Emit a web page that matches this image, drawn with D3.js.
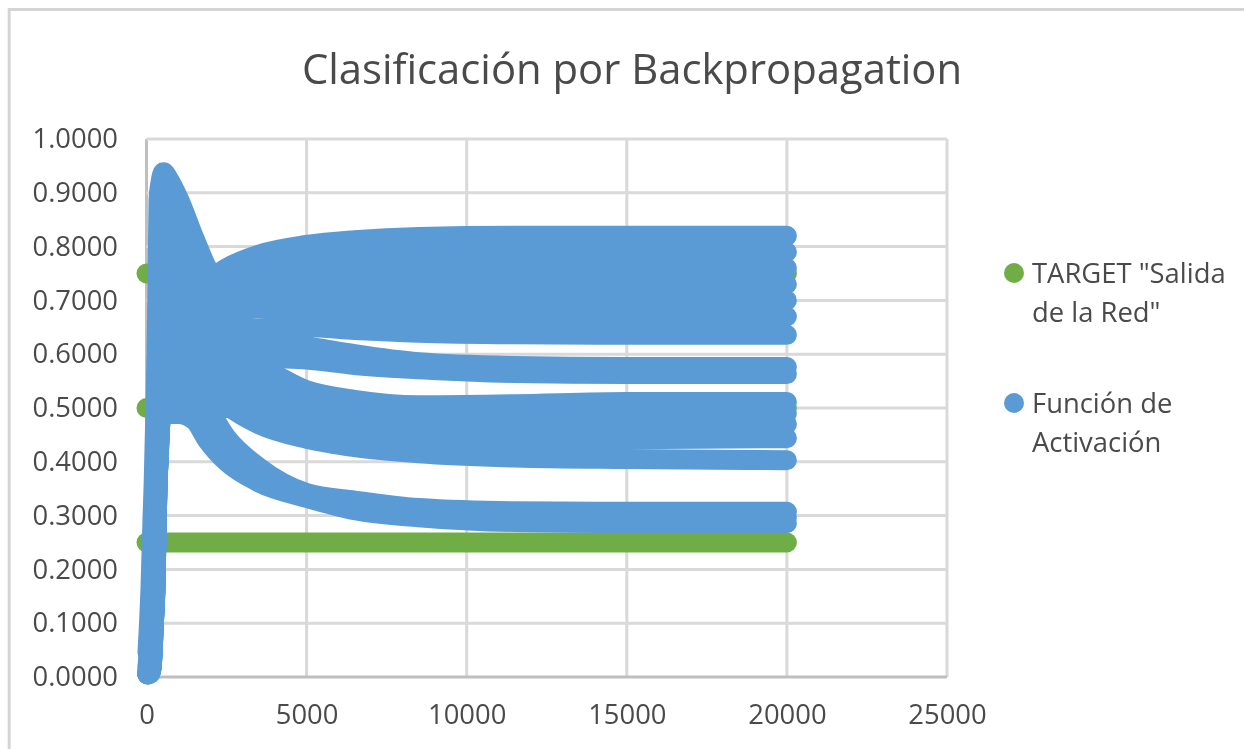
<!DOCTYPE html>
<html>
<head>
<meta charset="utf-8">
<script src="https://cdn.jsdelivr.net/npm/d3@7/dist/d3.min.js"></script>
<style>
  html, body { margin: 0; padding: 0; background: #fff; }
  svg { display: block; filter: blur(0.4px); }
  text { font-family: "Open Sans", sans-serif; fill: #4a4a4a; }
</style>
</head>
<body>
<div id="graphContainer"></div>
<script>
const titulo = 'Clasificación por Backpropagation';
const xTicks = [0, 5000, 10000, 15000, 20000, 25000];
const yTicks = [0, 0.1, 0.2, 0.3, 0.4, 0.5, 0.6, 0.7, 0.8, 0.9, 1];

// TARGET series, flat over all the iterations
const targetIter = [0, 20000];
const targets = [0.25, 0.5, 0.75];

const iter = [30, 125, 190, 220, 280, 340, 375, 440, 530, 700, 1000, 1500, 1900, 2500, 3500, 5000, 6500, 8500, 11500, 15000, 20000];

const salida1 = [.045, .167, .30, .353, .50, .706, .887, .92, .938, .925, .89, .815, .76, .725, .71, .70, .70, .70, .70, .70, .70];
const salida2 = [.02, .10, .22, .30, .42, .60, .68, .70, .70, .70, .70, .715, .735, .76, .785, .803, .812, .818, .82, .82, .82];
const salida3 = [.015, .08, .18, .25, .38, .60, .80, .88, .90, .89, .85, .78, .74, .73, .755, .775, .785, .79, .79, .79, .79];
const salida4 = [.01, .06, .15, .22, .33, .55, .72, .82, .85, .85, .80, .75, .72, .71, .73, .75, .755, .76, .76, .76, .76];
const salida5 = [.01, .05, .12, .18, .30, .50, .65, .76, .80, .80, .76, .72, .70, .69, .71, .72, .725, .73, .73, .73, .73];
const salida6 = [.008, .04, .10, .16, .27, .46, .60, .70, .74, .75, .72, .69, .67, .675, .685, .68, .675, .67, .67, .67, .67];
const salida7 = [.008, .03, .08, .14, .24, .40, .47, .54, .62, .66, .68, .65, .65, .645, .648, .65, .645, .64, .637, .636, .636];
const salida8 = [.007, .025, .07, .12, .22, .38, .45, .52, .58, .62, .66, .65, .65, .64, .63, .615, .60, .585, .578, .576, .576];
const salida9 = [.006, .02, .06, .11, .20, .37, .43, .51, .55, .60, .62, .65, .64, .61, .595, .59, .58, .572, .565, .563, .563];
const salida10 = [.006, .015, .055, .10, .19, .36, .42, .50, .56, .60, .62, .62, .60, .585, .575, .533, .515, .505, .507, .511, .511];
const salida11 = [.006, .012, .05, .095, .18, .36, .41, .49, .54, .58, .60, .60, .59, .57, .54, .51, .495, .49, .49, .49, .49];
const salida12 = [.005, .01, .05, .09, .175, .355, .41, .485, .53, .57, .59, .59, .58, .55, .515, .49, .478, .47, .47, .47, .47];
const salida13 = [.005, .009, .045, .09, .17, .355, .405, .48, .52, .56, .58, .58, .565, .53, .495, .465, .455, .447, .44, .442, .444];
const salida14 = [.005, .008, .045, .09, .17, .353, .40, .48, .51, .55, .56, .56, .535, .505, .47, .443, .4275, .416, .408, .405, .403];
const salida15 = [.005, .008, .045, .09, .167, .353, .40, .478, .50, .52, .53, .525, .50, .445, .39, .342, .328, .314, .308, .307, .307];
const salida16 = [.005, .007, .045, .09, .167, .353, .40, .478, .485, .489, .489, .477, .44, .40, .362, .333, .31, .297, .288, .286, .286];
const salida17 = [.005, .007, .045, .09, .167, .353, .40, .478, .49, .50, .505, .50, .47, .42, .375, .338, .32, .305, .298, .297, .297];

const salidas = [
  salida1, salida2, salida3, salida4, salida5, salida6, salida7, salida8, salida9,
  salida10, salida11, salida12, salida13, salida14, salida15, salida16, salida17,
];

const canvasWidth = 1244;
const canvasHeight = 749;
const green = '#70ad47';
const blue = '#5b9bd5';
const markerSize = 20;

const svg = d3
  .select('#graphContainer')
  .append('svg')
  .attr('width', canvasWidth)
  .attr('height', canvasHeight);

// screenshot frame, only the top and left sides show
svg
  .append('path')
  .attr('d', 'M9.2,749V9.5H1244')
  .attr('fill', 'none')
  .attr('stroke', '#d4d4d4')
  .attr('stroke-width', 3);

const x = d3.scaleLinear().domain([0, 25000]).range([146.5, 947]);
const y = d3.scaleLinear().domain([0, 1]).range([677, 139]);

// gridlines
svg
  .append('g')
  .selectAll('line')
  .data(xTicks)
  .enter()
  .append('line')
  .attr('x1', d => x(d))
  .attr('x2', d => x(d))
  .attr('y1', y(1))
  .attr('y2', y(0))
  .attr('stroke', d => (d === 0 ? '#bfbfbf' : '#d9d9d9'))
  .attr('stroke-width', 3);

svg
  .append('g')
  .selectAll('line')
  .data(yTicks)
  .enter()
  .append('line')
  .attr('x1', x(0))
  .attr('x2', x(25000))
  .attr('y1', d => y(d))
  .attr('y2', d => y(d))
  .attr('stroke', d => (d === 0 ? '#bfbfbf' : '#d9d9d9'))
  .attr('stroke-width', 3);

// axis labels
const xAxis = svg
  .append('g')
  .attr('transform', 'translate(0,' + y(0) + ')')
  .call(d3.axisBottom(x).tickValues(xTicks).tickFormat(d3.format('d')).tickSize(0).tickPadding(28));
xAxis.select('.domain').remove();
xAxis.selectAll('text').style('font-size', '27.4px');

const yAxis = svg
  .append('g')
  .attr('transform', 'translate(118,0)')
  .call(d3.axisLeft(y).tickValues(yTicks).tickFormat(d3.format('.4f')).tickSize(0).tickPadding(0));
yAxis.select('.domain').remove();
yAxis.selectAll('text').style('font-size', '27.4px');

const line = d3
  .line()
  .x(d => x(d[0]))
  .y(d => y(d[1]))
  .curve(d3.curveMonotoneX);

// the markers overlap so much that each series reads as a thick round stroke
svg
  .append('g')
  .selectAll('path')
  .data(targets)
  .enter()
  .append('path')
  .attr('d', d => line(targetIter.map(i => [i, d])))
  .attr('fill', 'none')
  .attr('stroke', green)
  .attr('stroke-width', markerSize)
  .attr('stroke-linecap', 'round');

svg
  .append('g')
  .selectAll('path')
  .data(salidas)
  .enter()
  .append('path')
  .attr('d', values => line(iter.map((i, k) => [i, values[k]])))
  .attr('fill', 'none')
  .attr('stroke', blue)
  .attr('stroke-width', markerSize)
  .attr('stroke-linecap', 'round')
  .attr('stroke-linejoin', 'round');

svg
  .append('text')
  .text(titulo)
  .attr('x', 632)
  .attr('y', 84)
  .attr('text-anchor', 'middle')
  .style('font-size', '41.8px');

// legend
const legend = [
  { color: green, cy: 273, lines: ['TARGET "Salida', 'de la Red"'], base: [283, 322] },
  { color: blue, cy: 403, lines: ['Función de', 'Activación'], base: [413, 452] },
];

const legendItem = svg
  .append('g')
  .selectAll('g')
  .data(legend)
  .enter()
  .append('g');

legendItem
  .append('circle')
  .attr('cx', 1014)
  .attr('cy', d => d.cy)
  .attr('r', 10)
  .attr('fill', d => d.color);

legendItem
  .selectAll('text')
  .data(d => d.lines.map((t, i) => ({ t: t, y: d.base[i] })))
  .enter()
  .append('text')
  .text(d => d.t)
  .attr('x', 1032)
  .attr('y', d => d.y)
  .style('font-size', '27.4px');
</script>
</body>
</html>
